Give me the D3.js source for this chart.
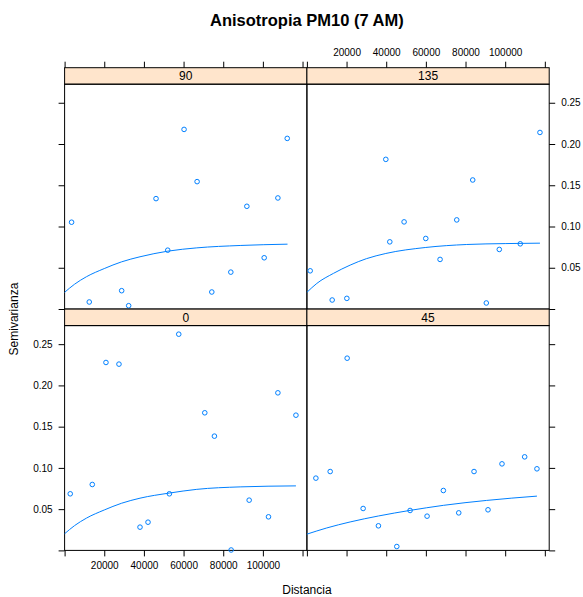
<!DOCTYPE html>
<html><head><meta charset="utf-8">
<script src="https://cdn.jsdelivr.net/npm/d3@7/dist/d3.min.js"></script>
<style>
body{margin:0;background:#fff}
text{font-family:"Liberation Sans",Arial,Helvetica,sans-serif}
</style>
</head><body>
<svg id="chart" width="583" height="597"></svg>
<script>
// ---- data ----
const title = "Anisotropia PM10 (7 AM)";
const xLabel = "Distancia";
const yLabel = "Semivarianza";
const xTicks = [0, 20000, 40000, 60000, 80000, 100000, 120000];
const yTicks = [0, 0.05, 0.10, 0.15, 0.20, 0.25];
const xMax = 122200, yMax = 0.2725;

// direction 90
const dist90  = [3520, 12430, 28780, 32310, 46110, 52020, 60250, 66820, 74240, 83830, 91920, 100660, 107570, 112280];
const gamma90 = [0.1052, 0.0085, 0.0222, 0.0040, 0.1338, 0.0713, 0.2177, 0.1544, 0.0206, 0.0447, 0.1245, 0.0621, 0.1346, 0.2068];
const modelDist90  = [0, 5000, 11000, 20000, 28780, 38030, 52020, 66670, 88540, 112430];
const modelGamma90 = [0.0202, 0.0300, 0.0391, 0.0490, 0.0572, 0.0633, 0.0701, 0.0741, 0.0770, 0.0786];

// direction 135
const dist135  = [1660, 12750, 20150, 39800, 41810, 49020, 59950, 67160, 75570, 83630, 90480, 97030, 107610, 117540];
const gamma135 = [0.0463, 0.0109, 0.0129, 0.1814, 0.0814, 0.1056, 0.0855, 0.0601, 0.1080, 0.1564, 0.0073, 0.0722, 0.0790, 0.2140];
const modelDist135  = [0, 5000, 13400, 21810, 30000, 39800, 59950, 80610, 100000, 117540];
const modelGamma135 = [0.0202, 0.0310, 0.0432, 0.0532, 0.0610, 0.0673, 0.0746, 0.0782, 0.0793, 0.0798];

// direction 0
const dist0  = [2840, 13960, 20860, 27420, 38030, 42070, 52840, 57570, 70700, 75560, 83990, 93080, 102830, 107570, 116670];
const gamma0 = [0.0686, 0.0799, 0.2278, 0.2258, 0.0282, 0.0342, 0.0686, 0.2621, 0.1668, 0.1385, 0.0005, 0.0609, 0.0407, 0.1910, 0.1639];
const modelDist0  = [0, 5000, 11000, 20000, 28780, 38030, 52840, 66670, 88540, 116670];
const modelGamma0 = [0.0202, 0.0300, 0.0391, 0.0490, 0.0572, 0.0633, 0.0695, 0.0740, 0.0770, 0.0782];

// direction 45
const dist45  = [4530, 11740, 20300, 28360, 36070, 45340, 52040, 60610, 68820, 76580, 84290, 91340, 98390, 109830, 116020];
const gamma45 = [0.0876, 0.0956, 0.2330, 0.0508, 0.0298, 0.0047, 0.0484, 0.0415, 0.0726, 0.0455, 0.0956, 0.0492, 0.1049, 0.1134, 0.0989];
const modelDist45  = [0, 10000, 21810, 36070, 52040, 68820, 90680, 116020];
const modelGamma45 = [0.0197, 0.0272, 0.0345, 0.0417, 0.0485, 0.0546, 0.0606, 0.0658];

// ---- layout ----
const W = 583, H = 597;
const colX = [64.6, 306.9];
const pw = 242.3;
const stripH = 16.5;
const rowTop = [84.2, 325.6];   // top of plotting region of each row
const ph = 224.8;
const col = "#0080ff";
const stripFill = "#ffe5cc";

const panels = [
  {dir: "90",  c: 0, r: 0, d: dist90,  g: gamma90,  md: modelDist90,  mg: modelGamma90},
  {dir: "135", c: 1, r: 0, d: dist135, g: gamma135, md: modelDist135, mg: modelGamma135},
  {dir: "0",   c: 0, r: 1, d: dist0,   g: gamma0,   md: modelDist0,   mg: modelGamma0},
  {dir: "45",  c: 1, r: 1, d: dist45,  g: gamma45,  md: modelDist45,  mg: modelGamma45}
];

const svg = d3.select("#chart");
svg.append("rect").attr("width", W).attr("height", H).attr("fill", "#fff");

const xs = [0, 1].map(c => d3.scaleLinear().domain([0, xMax]).range([colX[c], colX[c] + pw]));
const ys = [0, 1].map(r => d3.scaleLinear().domain([0, yMax]).range([rowTop[r] + ph, rowTop[r]]));

const fmtX = d => (d === 0 || d === 120000) ? "" : d3.format("d")(d);
const fmtY = d => d === 0 ? "" : d3.format(".2f")(d);
const none = () => "";

function styleAxis(g) {
  g.select(".domain").remove();
  g.selectAll(".tick line").attr("stroke", "#000").attr("stroke-width", 1);
  g.selectAll(".tick text").attr("fill", "#000").attr("font-size", "10px")
    .attr("font-family", '"Liberation Sans",Arial,sans-serif');
}

panels.forEach(p => {
  const x = xs[p.c], y = ys[p.r];
  const top = rowTop[p.r];
  const g = svg.append("g");
  // strip
  g.append("rect").attr("x", colX[p.c]).attr("y", top - stripH).attr("width", pw).attr("height", stripH)
    .attr("fill", stripFill).attr("stroke", "#000").attr("stroke-width", 1);
  g.append("text").attr("x", colX[p.c] + pw / 2).attr("y", top - stripH / 2).attr("dy", "0.36em")
    .attr("text-anchor", "middle").attr("font-size", "12px").attr("fill", "#000").text(p.dir);
  // panel border
  g.append("rect").attr("x", colX[p.c]).attr("y", top).attr("width", pw).attr("height", ph)
    .attr("fill", "none").attr("stroke", "#000").attr("stroke-width", 1);
  // model line
  const pts = p.md.map((d, i) => [d, p.mg[i]]);
  g.append("path").datum(pts)
    .attr("d", d3.line().x(d => x(d[0])).y(d => y(d[1])).curve(d3.curveMonotoneX))
    .attr("fill", "none").attr("stroke", col).attr("stroke-width", 1);
  // points
  g.selectAll("circle").data(p.d.map((d, i) => [d, p.g[i]])).enter().append("circle")
    .attr("cx", d => x(d[0])).attr("cy", d => y(d[1])).attr("r", 2.3)
    .attr("fill", "none").attr("stroke", col).attr("stroke-width", 1);
});

// x axes
[0, 1].forEach(c => {
  svg.append("g").attr("transform", `translate(0,${rowTop[1] + ph})`)
    .call(d3.axisBottom(xs[c]).tickValues(xTicks).tickSize(6).tickPadding(6).tickFormat(c === 0 ? fmtX : none))
    .call(styleAxis);
  svg.append("g").attr("transform", `translate(0,${rowTop[0] - stripH})`)
    .call(d3.axisTop(xs[c]).tickValues(xTicks).tickSize(6).tickPadding(6).tickFormat(c === 1 ? fmtX : none))
    .call(styleAxis);
});
// y axes
[0, 1].forEach(r => {
  svg.append("g").attr("transform", `translate(${colX[0]},0)`)
    .call(d3.axisLeft(ys[r]).tickValues(yTicks).tickSize(6).tickPadding(6).tickFormat(r === 1 ? fmtY : none))
    .call(styleAxis);
  svg.append("g").attr("transform", `translate(${colX[1] + pw},0)`)
    .call(d3.axisRight(ys[r]).tickValues(yTicks).tickSize(6).tickPadding(6).tickFormat(r === 0 ? fmtY : none))
    .call(styleAxis);
});

// titles
svg.append("text").attr("x", (colX[0] + colX[1] + pw) / 2).attr("y", 26)
  .attr("text-anchor", "middle").attr("font-size", "16.5px").attr("font-weight", "bold").attr("fill", "#000").text(title);
svg.append("text").attr("x", (colX[0] + colX[1] + pw) / 2).attr("y", 594)
  .attr("text-anchor", "middle").attr("font-size", "12px").attr("fill", "#000").text(xLabel);
svg.append("text").attr("transform", `translate(18,${(rowTop[0] - stripH + rowTop[1] + ph) / 2 + 10}) rotate(-90)`)
  .attr("text-anchor", "middle").attr("font-size", "12px").attr("fill", "#000").text(yLabel);
</script>
</body></html>
